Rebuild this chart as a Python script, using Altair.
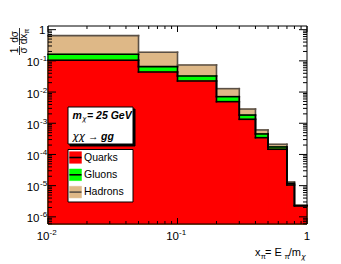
import altair as alt
import pandas as pd

# ---------------- data ----------------
bin_lo = [0.01, 0.05, 0.1, 0.2, 0.3, 0.4, 0.5, 0.7, 0.8]
bin_hi = [0.05, 0.1, 0.2, 0.3, 0.4, 0.5, 0.7, 0.8, 1.0]
hadrons = [0.642, 0.189, 0.0739, 0.01285, 0.00285, 6.1e-4, 2.12e-4, 1.31e-5, 2.35e-6]
gluons = [0.163, 0.0652, 0.0328, 0.00712, 0.00183, 4.54e-4, 1.74e-4, 1.18e-5, 2.3e-6]
quarks = [0.1045, 0.0441, 0.0227, 0.00492, 0.00134, 3.45e-4, 1.47e-4, 1.05e-5, 2.25e-6]

series_names = ["Quarks", "Gluons", "Hadrons"]
fill_colors = ["#ff0000", "#00ff00", "#deb887"]
line_colors = ["#000000", "#000000", "#5a5046"]

x_domain = [0.01, 1.0]
y_domain = [5.9e-7, 1.31]

x_label_vals = [0.01, 0.1, 1.0]
x_label_base = ["10", "10", "1"]
x_label_exp = ["-2", "-1", ""]
y_label_vals = [1e-6, 1e-5, 1e-4, 1e-3, 1e-2, 1e-1, 1.0]
y_label_base = ["10", "10", "10", "10", "10", "10", "1"]
y_label_exp = ["-6", "-5", "-4", "-3", "-2", "-1", ""]

x_major = [0.01, 0.1, 1.0]
x_minor = [m * 10.0 ** e for e in (-2, -1) for m in range(2, 10)]
y_major = [1e-6, 1e-5, 1e-4, 1e-3, 1e-2, 1e-1, 1.0]
y_minor = [m * 10.0 ** e for e in range(-7, 1) for m in range(2, 10)
           if y_domain[0] <= m * 10.0 ** e <= y_domain[1]]

FONT = "Liberation Sans"
GREEK = "DejaVu Sans"
W, H = 259, 198
OX, OY = 48, 26  # page position of the plot area

xsc = alt.Scale(type="log", domain=x_domain, nice=False)
ysc = alt.Scale(type="log", domain=y_domain, nice=False)
one = pd.DataFrame({"a": [0]})

layers = []

# ---------------- histogram fills ----------------
series_vals = [quarks, gluons, hadrons]
for vals, fc in reversed(list(zip(series_vals, fill_colors))):
    df = pd.DataFrame({"lo": bin_lo, "hi": bin_hi, "v": vals})
    layers.append(
        alt.Chart(df).mark_rect(fill=fc, stroke=fc, strokeWidth=1).encode(
            x=alt.X("lo:Q", scale=xsc, axis=None),
            x2="hi:Q",
            y=alt.Y("v:Q", scale=ysc, axis=None),
            y2=alt.value(H),
        )
    )

# ---------------- histogram outlines (step) ----------------
for vals, lc in reversed(list(zip(series_vals, line_colors))):
    rows = []
    for i in range(len(vals)):
        rows.append({"x": bin_lo[i], "x2": bin_hi[i], "y": vals[i], "y2": vals[i]})
        if i < len(vals) - 1:
            rows.append({"x": bin_hi[i], "x2": bin_hi[i], "y": vals[i], "y2": vals[i + 1]})
    seg = pd.DataFrame(rows)
    layers.append(
        alt.Chart(seg).mark_rule(color=lc, strokeWidth=1.6, strokeCap="square").encode(
            x=alt.X("x:Q", scale=xsc, axis=None),
            x2="x2:Q",
            y=alt.Y("y:Q", scale=ysc, axis=None),
            y2="y2:Q",
        )
    )

# ---------------- ticks (inside, all four sides) ----------------
def xticks(vals, length):
    d = pd.DataFrame({"t": vals})
    bot = alt.Chart(d).mark_rule(color="black", strokeWidth=1).encode(
        x=alt.X("t:Q", scale=xsc, axis=None), y=alt.value(H), y2=alt.value(H - length))
    top = alt.Chart(d).mark_rule(color="black", strokeWidth=1).encode(
        x=alt.X("t:Q", scale=xsc, axis=None), y=alt.value(0), y2=alt.value(length))
    return [bot, top]


def yticks(vals, length):
    d = pd.DataFrame({"t": vals})
    left = alt.Chart(d).mark_rule(color="black", strokeWidth=1).encode(
        y=alt.Y("t:Q", scale=ysc, axis=None), x=alt.value(0), x2=alt.value(length))
    right = alt.Chart(d).mark_rule(color="black", strokeWidth=1).encode(
        y=alt.Y("t:Q", scale=ysc, axis=None), x=alt.value(W), x2=alt.value(W - length))
    return [left, right]


layers += xticks(x_major, 6) + xticks(x_minor, 3)
layers += yticks(y_major, 8) + yticks(y_minor, 4)

# frame
layers.append(
    alt.Chart(one).mark_rect(filled=False, color="black", strokeWidth=1).encode(
        x=alt.value(0), x2=alt.value(W), y=alt.value(0), y2=alt.value(H))
)

# ---------------- tick labels ----------------
xl = pd.DataFrame({"v": x_label_vals, "base": x_label_base, "exp": x_label_exp})
layers.append(
    alt.Chart(xl).transform_filter("datum.exp != ''").mark_text(
        align="right", baseline="alphabetic", fontSize=11.5, font=FONT, dx=1.5).encode(
        x=alt.X("v:Q", scale=xsc, axis=None), y=alt.value(240 - OY), text="base:N")
)
layers.append(
    alt.Chart(xl).transform_filter("datum.exp != ''").mark_text(
        align="left", baseline="alphabetic", fontSize=8, font=FONT, dx=1.5).encode(
        x=alt.X("v:Q", scale=xsc, axis=None), y=alt.value(235 - OY), text="exp:N")
)
layers.append(
    alt.Chart(xl).transform_filter("datum.exp == ''").mark_text(
        align="center", baseline="alphabetic", fontSize=11.5, font=FONT).encode(
        x=alt.X("v:Q", scale=xsc, axis=None), y=alt.value(240 - OY), text="base:N")
)

yl = pd.DataFrame({"v": y_label_vals, "base": y_label_base, "exp": y_label_exp})
layers.append(
    alt.Chart(yl).transform_filter("datum.exp != ''").mark_text(
        align="right", baseline="alphabetic", fontSize=11.5, font=FONT, dy=5.6).encode(
        y=alt.Y("v:Q", scale=ysc, axis=None), x=alt.value(39.5 - OX), text="base:N")
)
layers.append(
    alt.Chart(yl).transform_filter("datum.exp != ''").mark_text(
        align="left", baseline="alphabetic", fontSize=8, font=FONT, dy=0.6).encode(
        y=alt.Y("v:Q", scale=ysc, axis=None), x=alt.value(40 - OX), text="exp:N")
)
layers.append(
    alt.Chart(yl).transform_filter("datum.exp == ''").mark_text(
        align="right", baseline="alphabetic", fontSize=11.5, font=FONT, dy=4).encode(
        y=alt.Y("v:Q", scale=ysc, axis=None), x=alt.value(45.5 - OX), text="base:N")
)


# ---------------- free text helper ----------------
def txt(s, px, py, size=11, align="left", baseline="alphabetic", angle=0,
        weight="normal", style="normal", color="black", font=FONT):
    return alt.Chart(one).mark_text(
        text=s, align=align, baseline=baseline, fontSize=size, font=font,
        fontWeight=weight, fontStyle=style, angle=angle, color=color).encode(
        x=alt.value(px - OX), y=alt.value(py - OY))


def box(x0, y0, x1, y1, fill="white", stroke="black", sw=1):
    return alt.Chart(one).mark_rect(fill=fill, stroke=stroke, strokeWidth=sw).encode(
        x=alt.value(x0 - OX), x2=alt.value(x1 - OX), y=alt.value(y0 - OY), y2=alt.value(y1 - OY))


def hline(x0, x1, py, color="black", sw=1):
    return alt.Chart(one).mark_rule(color=color, strokeWidth=sw).encode(
        x=alt.value(x0 - OX), x2=alt.value(x1 - OX), y=alt.value(py - OY))


def vline(px, y0, y1, color="black", sw=1):
    return alt.Chart(one).mark_rule(color=color, strokeWidth=sw).encode(
        x=alt.value(px - OX), y=alt.value(y0 - OY), y2=alt.value(y1 - OY))


# x-axis title: x_pi= E_pi/m_chi
layers += [
    txt("x", 255, 256, size=11),
    txt("π", 260.8, 258.5, size=7.5),
    txt("= E", 265, 256, size=11),
    txt("π", 284.5, 258.5, size=7.5),
    txt("/m", 288.8, 256, size=11),
    txt("χ", 301.2, 258.5, size=7.5, font=GREEK, style="italic"),
]

# y-axis title: (1/sigma) dsigma/dx_pi, rotated
layers += [
    txt("1", 15, 50.5, size=10, align="center", baseline="middle", angle=270),
    vline(19.5, 46, 55, sw=0.8),
    txt("σ", 23.5, 50.5, size=10, align="center", baseline="middle", angle=270),
    txt("dσ", 15, 37, size=10, align="center", baseline="middle", angle=270),
    vline(19.5, 28, 45, sw=0.8),
    txt("dx", 23.5, 39, size=10, align="center", baseline="middle", angle=270),
    txt("π", 26.5, 31, size=7, align="center", baseline="middle", angle=270),
]

# text box with shadow
layers += [
    box(70, 109, 135, 146, fill="black", stroke="black"),
    box(68, 107, 133, 144),
    txt("m", 72.5, 118.5, size=10.5, weight="bold", style="italic"),
    txt("χ", 82.3, 121, size=7, font=GREEK, style="italic"),
    txt("= 25 GeV", 87, 118.5, size=10.5, weight="bold", style="italic"),
    txt("χχ", 72.5, 140, size=10.5, font=GREEK, style="italic"),
    txt("→", 88, 140, size=10.5),
    txt("gg", 101, 140, size=10.5, weight="bold", style="italic"),
]

# legend
layers.append(box(68, 149.5, 133, 202))
for i, (name, fc, lc) in enumerate(zip(series_names, fill_colors, line_colors)):
    cy = 157.5 + i * 17.3
    layers += [
        box(69.5, cy - 5.8, 81.5, cy + 5.8, fill=fc, stroke=fc, sw=0.5),
        hline(69.5, 81.5, cy, color=lc, sw=1.6),
        txt(name, 84, cy, size=10.5, baseline="middle"),
    ]

chart = alt.layer(*layers).properties(
    width=W, height=H,
    padding={"left": 40, "top": 18, "right": 26, "bottom": 38},
    autosize=alt.AutoSizeParams(type="none"),
    background="white",
).configure_view(stroke=None)

chart.save("out.html", embed_options={"renderer": "svg", "actions": False})
